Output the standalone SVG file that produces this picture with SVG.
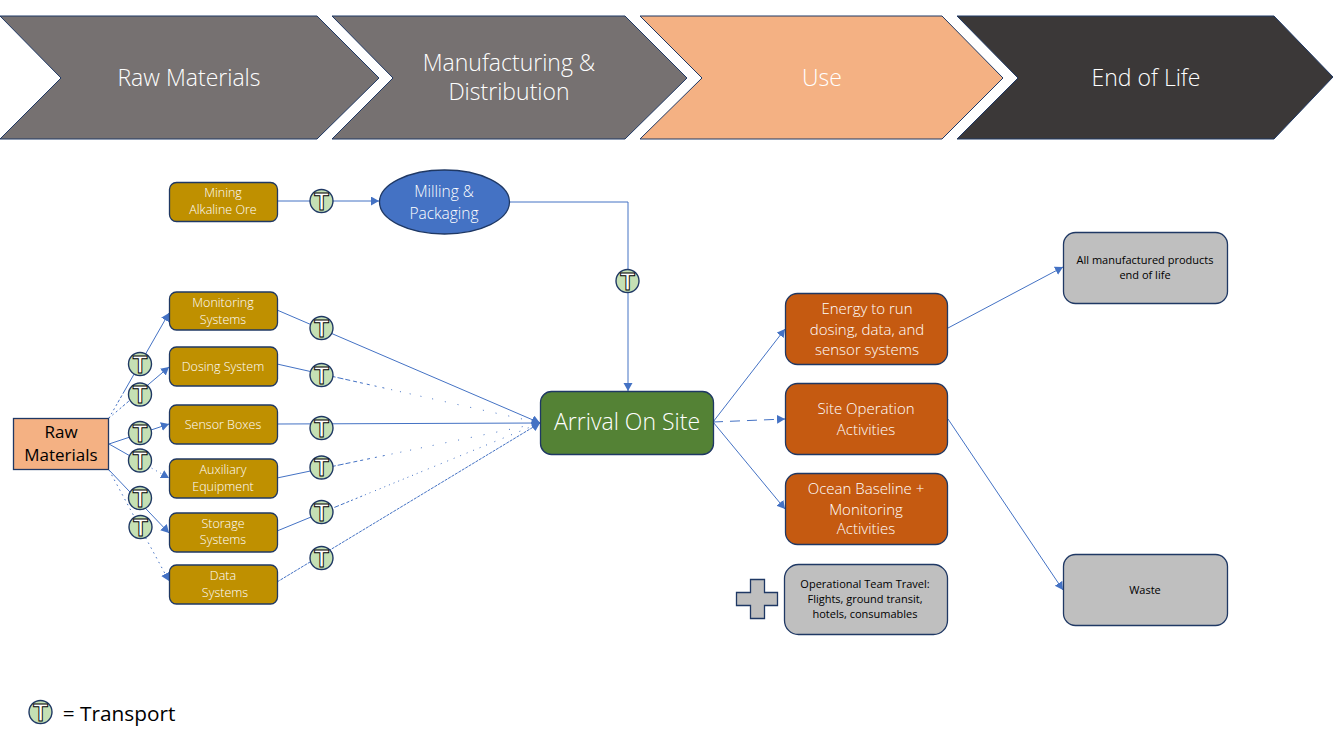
<svg xmlns="http://www.w3.org/2000/svg" width="1333" height="750" viewBox="0 0 1333 750">
<style>
text{font-family:"Open Sans","Noto Sans","Liberation Sans",sans-serif;text-anchor:middle}
.w{fill:#fff;font-weight:300}.k{fill:#000}
.n{stroke:#1f3864;stroke-width:1.3}
.g{fill:#bf9000}.o{fill:#c55a11}.y{fill:#bfbfbf}
.ch{stroke:#1f3864;stroke-width:1}
.c{fill:none;stroke:#4472c4;stroke-width:1}
.a{marker-end:url(#ah)}
.fade{stroke-dasharray:50 2 8 2 6 2 5 3 4 3 3 4 3 5 2 6 2 7 1 8 1 9 1 10 1 11 1 12 1 12 1 12 1 12 1 12 1 12 1 12 1 12 1 12 1 12 1 12 1 12 1 400}
.afade{stroke-dasharray:45 4 1 4 1 4 1 400}
.fine{stroke-dasharray:3 1}
.dots{stroke-dasharray:60 2 5 2 4 2 3 2 2 3 2 3 2 3 1 4 1 5 1 4 1 4 1 4 1 4 1 4 1 4 1 4 1 4 1 4 1 4 1 6 1 6 1 6 1 6 1 6 1 6 1 6 1 6 1 6 1 6 1 8 1 8 1 8 1 8 1 8 1 8 1 400}
.sparse{stroke-dasharray:1.500 4}
.rise{stroke-dasharray:1.500 3 1.500 3 2 3 2 2 3 2 3 2 400}
.d2{stroke-dasharray:10 7}
.tc{fill:#c5e0b4;stroke:#1f3864;stroke-width:1.4}
.tt{font-family:"Liberation Sans",sans-serif;font-size:24px;font-weight:700;fill:#fff;stroke:#000;stroke-width:.9}
.f11{font-size:12.500px}.f15{font-size:15px}.f10{font-size:11px}.f23{font-size:23px}
</style>
<defs>
<marker id="ah" markerUnits="userSpaceOnUse" markerWidth="10" markerHeight="10" refX="8" refY="4.500" orient="auto"><path d="M0,0L8,4.500L0,9Z" fill="#4472c4"/></marker>
<g id="t"><circle r="11.500" class="tc"/><text class="tt" y="8.500">T</text></g>
</defs>
<g id="chevrons">
<g id="ch-raw"><path class="ch" d="M0,16H317L379,78L317,139H0L61,78Z" fill="#767171"/><text class="w f23" x="189" y="86">Raw Materials</text></g>
<g id="ch-mfg"><path class="ch" d="M332,16H625L687,78L625,139H332L393,78Z" fill="#767171"/><text class="w f23" x="509" y="71">Manufacturing &amp;</text><text class="w f23" x="509" y="100">Distribution</text></g>
<g id="ch-use"><path class="ch" d="M640,16H942L1003,78L942,139H640L702,78Z" fill="#f4b183"/><text class="w f23" x="822" y="86">Use</text></g>
<g id="ch-eol"><path class="ch" d="M957,16H1274L1333,77L1274,139H957L1018,78Z" fill="#3b3838"/><text class="w f23" x="1146" y="86">End of Life</text></g>
</g>
<g id="connectors">
<path class="c a" d="M277,201H379"/>
<path class="c a" d="M510,202H628V391"/>
<path class="c a rise" d="M109,418L169,313"/>
<path class="c a rise" d="M109,418L169,367"/>
<path class="c a" d="M109,444L169,424"/>
<path class="c a afade" d="M109,444L169,478"/>
<path class="c a" stroke-width="1.300" d="M109,470L169,533"/>
<path class="c a sparse" d="M109,470L169,581"/>
<path class="c a" d="M277,310L540,423"/>
<path class="c a fade" d="M277,364L540,423"/>
<path class="c a" d="M277,424L540,423"/>
<path class="c a fade" d="M277,478L540,423"/>
<path class="c a dots" d="M277,531L540,423"/>
<path class="c a fine" d="M277,582L540,423"/>
<path class="c a" d="M713,422L785,329"/>
<path class="c a d2" d="M713,422L785,419"/>
<path class="c a" d="M713,422L785,509"/>
<path class="c a" d="M948,328L1063,267"/>
<path class="c a" d="M948,419L1063,590"/>
</g>
<g id="n-mining"><rect class="n g" x="169.500" y="182.500" width="108" height="39" rx="7"/><text class="w f11" x="223" y="197">Mining</text><text class="w f11" x="223" y="214">Alkaline Ore</text></g>
<g id="n-milling"><ellipse class="n" cx="444.500" cy="202" rx="65" ry="32" fill="#4472c4"/><text class="w" font-size="15.500" x="444" y="197">Milling &amp;</text><text class="w" font-size="15.500" x="444" y="219">Packaging</text></g>
<g id="n-raw"><rect class="n" x="13.500" y="418.500" width="95" height="51" fill="#f4b183"/><text class="k" font-size="17" x="61" y="438">Raw</text><text class="k" font-size="17" x="61" y="461">Materials</text></g>
<g id="n-monitoring"><rect class="n g" x="169.500" y="292" width="108" height="38" rx="7"/><text class="w f11" x="223" y="307">Monitoring</text><text class="w f11" x="223" y="324">Systems</text></g>
<g id="n-dosing"><rect class="n g" x="169.500" y="347" width="108" height="39" rx="7"/><text class="w f11" x="223" y="371">Dosing System</text></g>
<g id="n-sensor"><rect class="n g" x="169.500" y="405" width="108" height="39" rx="7"/><text class="w f11" x="223" y="429">Sensor Boxes</text></g>
<g id="n-aux"><rect class="n g" x="169.500" y="459" width="108" height="39" rx="7"/><text class="w f11" x="223" y="474">Auxiliary</text><text class="w f11" x="223" y="491">Equipment</text></g>
<g id="n-storage"><rect class="n g" x="169.500" y="513" width="108" height="39" rx="7"/><text class="w f11" x="223" y="528">Storage</text><text class="w f11" x="223" y="544">Systems</text></g>
<g id="n-data"><rect class="n g" x="169.500" y="565" width="108" height="39" rx="7"/><text class="w f11" x="223" y="580">Data</text><text class="w f11" x="225" y="597">Systems</text></g>
<g id="n-arrival"><rect class="n" x="540.500" y="391.500" width="173" height="63" rx="11" fill="#548235"/><text class="w f23" x="627" y="430">Arrival On Site</text></g>
<g id="n-energy"><rect class="n o" x="785.500" y="293.500" width="162" height="71" rx="12"/><text class="w f15" x="867" y="314">Energy to run</text><text class="w f15" x="867" y="335">dosing, data, and</text><text class="w f15" x="867" y="355">sensor systems</text></g>
<g id="n-siteop"><rect class="n o" x="785.500" y="383.500" width="162" height="71" rx="12"/><text class="w f15" x="866" y="414">Site Operation</text><text class="w f15" x="866" y="435">Activities</text></g>
<g id="n-ocean"><rect class="n o" x="785.500" y="473.500" width="162" height="71" rx="12"/><text class="w f15" x="866" y="494">Ocean Baseline +</text><text class="w f15" x="866" y="515">Monitoring</text><text class="w f15" x="866" y="534">Activities</text></g>
<g id="n-plus"><path class="n y" d="M750.500,579.500H764.500V592.500H777.500V605.500H764.500V618.500H750.500V605.500H736.500V592.500H750.500Z"/></g>
<g id="n-travel"><rect class="n y" x="784.500" y="564.500" width="163" height="70" rx="14"/><text class="k f10" x="865" y="588">Operational Team Travel:</text><text class="k f10" x="865" y="603">Flights, ground transit,</text><text class="k f10" x="865" y="618">hotels, consumables</text></g>
<g id="n-manuf"><rect class="n y" x="1063.500" y="232.500" width="164" height="71" rx="12"/><text class="k f10" x="1145" y="264">All manufactured products</text><text class="k f10" x="1145" y="279">end of life</text></g>
<g id="n-waste"><rect class="n y" x="1063.500" y="554.500" width="164" height="71" rx="12"/><text class="k f10" x="1145" y="594">Waste</text></g>
<g id="transport">
<use href="#t" x="321.500" y="201"/>
<use href="#t" x="627.500" y="281"/>
<use href="#t" x="140" y="364"/>
<use href="#t" x="140" y="394.500"/>
<use href="#t" x="140" y="433"/>
<use href="#t" x="140" y="460.500"/>
<use href="#t" x="140" y="498"/>
<use href="#t" x="140.500" y="527"/>
<use href="#t" x="321.500" y="328"/>
<use href="#t" x="321.500" y="375"/>
<use href="#t" x="321.500" y="428"/>
<use href="#t" x="321.500" y="467.500"/>
<use href="#t" x="321.500" y="512"/>
<use href="#t" x="321.500" y="558"/>
<use href="#t" x="40.500" y="712"/>
</g>
<g id="legend"><text class="k" x="119" y="721" font-size="20.800">= Transport</text></g>
</svg>
